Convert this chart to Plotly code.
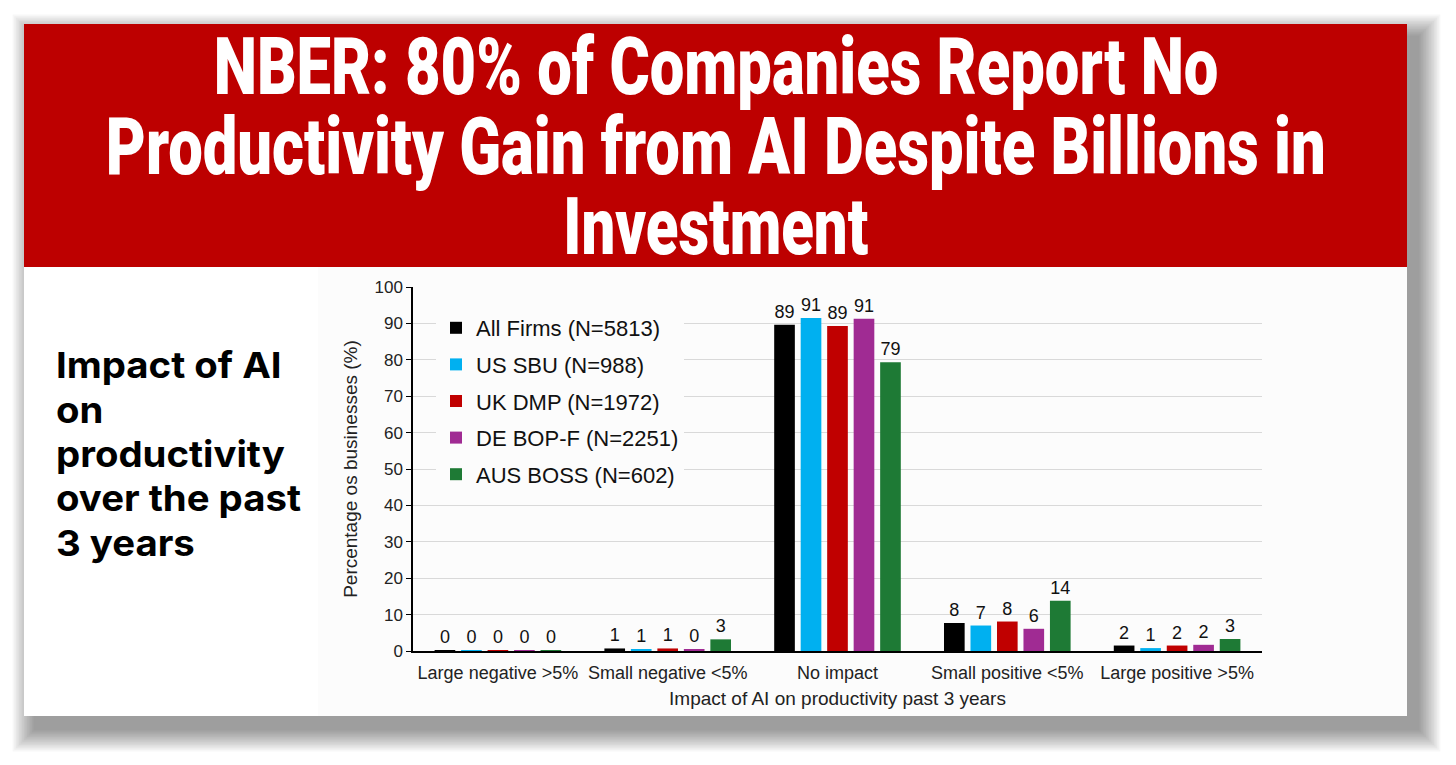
import json
import plotly.graph_objects as go

W, H = 1456, 765

categories = ["Large negative >5%", "Small negative <5%", "No impact",
              "Small positive <5%", "Large positive >5%"]
series_names = ["All Firms (N=5813)", "US SBU (N=988)", "UK DMP (N=1972)",
                "DE BOP-F (N=2251)", "AUS BOSS (N=602)"]
all_firms = [0.1, 0.7, 89.6, 7.7, 1.5]
us_sbu = [0.1, 0.5, 91.5, 7.0, 0.8]
uk_dmp = [0.2, 0.7, 89.3, 8.1, 1.5]
de_bopf = [0.1, 0.3, 91.3, 6.1, 1.7]
aus_boss = [0.1, 3.2, 79.3, 13.8, 3.3]
all_firms_lbl = ["0", "1", "89", "8", "2"]
us_sbu_lbl = ["0", "1", "91", "7", "1"]
uk_dmp_lbl = ["0", "1", "89", "8", "2"]
de_bopf_lbl = ["0", "0", "91", "6", "2"]
aus_boss_lbl = ["0", "3", "79", "14", "3"]
colors = ["#000000", "#00B0F0", "#C00000", "#A02B93", "#1E7A35"]

title_lines = ["NBER: 80% of Companies Report No",
               "Productivity Gain from AI Despite Billions in",
               "Investment"]
side_lines = ["Impact of AI", "on", "productivity", "over the past", "3 years"]
y_title = "Percentage os businesses (%)"
x_title = "Impact of AI on productivity past 3 years"


def px(x):
    return x / W


def py(y):
    return 1 - y / H


FONT = "Liberation Sans, Arial, sans-serif"

fig = go.Figure()
values = [all_firms, us_sbu, uk_dmp, de_bopf, aus_boss]
labels = [all_firms_lbl, us_sbu_lbl, uk_dmp_lbl, de_bopf_lbl, aus_boss_lbl]
for name, vals, lbl, col in zip(series_names, values, labels, colors):
    fig.add_trace(go.Bar(
        x=categories, y=vals, name=name, marker=dict(color=col, line=dict(width=0)),
        text=lbl, textposition="outside", cliponaxis=False,
        textfont=dict(family=FONT, size=18, color="#111"),
        legendgroup=name,
    ))

shapes = []
# drop shadow
cx0, cy0, cx1, cy1 = 24, 24, 1407, 716
ox, oy = 11, 13
for i in range(1, 15):
    s = i * 1.6
    shapes.append(dict(type="rect", xref="paper", yref="paper",
                       x0=px(cx0 + ox - s), x1=px(cx1 + ox + s),
                       y0=py(cy0 + oy - s), y1=py(cy1 + oy + s),
                       fillcolor="rgba(0,0,0,0.03)", line=dict(width=0), layer="below"))
# card
shapes.append(dict(type="rect", xref="paper", yref="paper",
                   x0=px(cx0), x1=px(cx1), y0=py(cy0), y1=py(cy1),
                   fillcolor="#ffffff", line=dict(width=0), layer="below"))
# red header
shapes.append(dict(type="rect", xref="paper", yref="paper",
                   x0=px(cx0), x1=px(cx1), y0=py(cy0), y1=py(267),
                   fillcolor="#BD0000", line=dict(width=0), layer="below"))
# chart panel tint
shapes.append(dict(type="rect", xref="paper", yref="paper",
                   x0=px(318), x1=px(cx1), y0=py(267), y1=py(cy1),
                   fillcolor="#fcfcfc", line=dict(width=0), layer="below"))

TITLE_SIZE = 60
annotations = []
title_y = [66, 146, 226]
for t, yy in zip(title_lines, title_y):
    annotations.append(dict(text=t, xref="paper", yref="paper", x=px(716), y=py(yy),
                            xanchor="center", yanchor="middle", showarrow=False,
                            font=dict(family="Roboto, Liberation Sans, sans-serif",
                                      size=TITLE_SIZE, color="#ffffff", weight=900)))
side_y = [365, 410, 454, 498, 543]
for t, yy in zip(side_lines, side_y):
    annotations.append(dict(text=t, xref="paper", yref="paper", x=px(54), y=py(yy),
                            xanchor="left", yanchor="middle", showarrow=False,
                            font=dict(family="Inter, Noto Sans, sans-serif", size=36,
                                      color="#000000", weight="bold")))

fig.update_layout(
    width=W, height=H, autosize=False,
    margin=dict(l=0, r=0, t=0, b=0, pad=0, autoexpand=False),
    paper_bgcolor="#ffffff", plot_bgcolor="rgba(0,0,0,0)",
    barmode="group", bargap=0.22, bargroupgap=0.22,
    font=dict(family=FONT, color="#222"),
    shapes=shapes, annotations=annotations,
    showlegend=True,
    legend=dict(x=px(436), y=py(307), xanchor="left", yanchor="top",
                bgcolor="#fcfcfc", borderwidth=0, tracegroupgap=5,
                font=dict(family=FONT, size=22, color="#111"),
                itemclick=False),
    xaxis=dict(domain=[px(413), px(1262)], showline=True, linecolor="#000", linewidth=2,
               ticks="", showgrid=False, ticklabelstandoff=4,
               tickfont=dict(size=18, color="#222"),
               title=dict(text=x_title, font=dict(size=19, color="#222"), standoff=10)),
    yaxis=dict(domain=[py(651), py(287)], range=[0, 100], dtick=10, showline=True,
               linecolor="#000", linewidth=1.5, ticks="outside", ticklen=5, tickcolor="#000",
               showgrid=True, gridcolor="#d9d9d9", gridwidth=1, zeroline=False,
               tickfont=dict(size=17, color="#222"),
               title=dict(text=y_title, font=dict(size=19, color="#222"), standoff=12)),
)

# per-line horizontal fit of the condensed title and wide side heading
title_targets = {title_lines[0]: 1005, title_lines[1]: 1220, title_lines[2]: 305}
title_sy = 57.0 / (0.711 * TITLE_SIZE)
side_ref = {"text": side_lines[3], "width": 245}
post = """
var gd = document.getElementById('{plot_id}');
var targets = %s;
var sy = %f;
var sideLines = %s;
var sideRef = %s;
document.body.style.margin = '0';
document.body.style.overflow = 'hidden';
var texts = gd.querySelectorAll('text.annotation-text');
var sideScale = 1;
texts.forEach(function(t) {
  if (t.getAttribute('data-unformatted') === sideRef.text) {
    var w = t.getBBox().width; if (w > 0) sideScale = sideRef.width / w;
  }
});
texts.forEach(function(t) {
  var k = t.getAttribute('data-unformatted');
  if (targets[k]) {
    var w = t.getBBox().width;
    if (w > 0) {
      t.style.transformBox = 'fill-box';
      t.style.transformOrigin = 'center';
      t.style.transform = 'scale(' + (targets[k] / w) + ',' + sy + ')';
    }
  } else if (sideLines.indexOf(k) >= 0) {
    t.style.transformBox = 'fill-box';
    t.style.transformOrigin = 'left center';
    t.style.transform = 'scaleX(' + sideScale + ')';
  }
});
""" % (json.dumps(title_targets), title_sy, json.dumps(side_lines), json.dumps(side_ref))

fig.write_html("out.html", include_plotlyjs=True, config={"displayModeBar": False},
               post_script=post)
